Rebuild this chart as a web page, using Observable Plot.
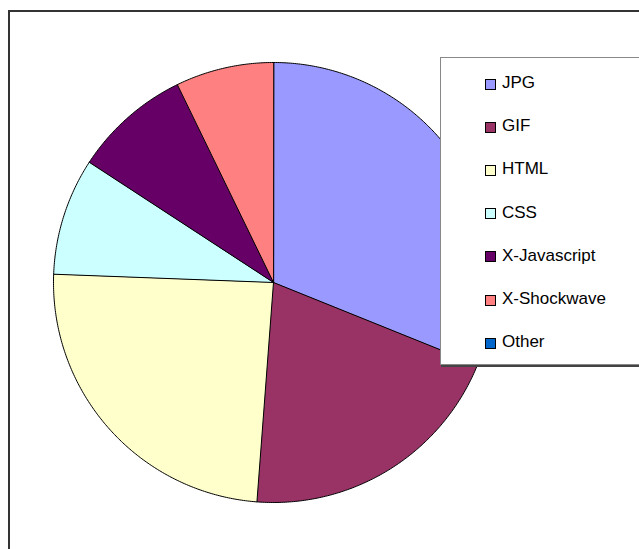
<!DOCTYPE html>
<html>
<head>
<meta charset="utf-8">
<script src="https://cdn.jsdelivr.net/npm/d3@7"></script>
<script src="https://cdn.jsdelivr.net/npm/@observablehq/plot@0.6"></script>
<style>
  html, body { margin: 0; padding: 0; background: #fff; overflow: hidden; }
  #wrap { position: relative; width: 639px; height: 549px; overflow: hidden; font-family: "Liberation Sans", Arial, sans-serif; }
  #chart { position: absolute; left: 0; top: 0; }
  #frame { position: absolute; left: 8px; top: 10px; width: 700px; height: 600px; border: 2px solid #333; box-sizing: border-box; pointer-events: none; }
  #legend { position: absolute; left: 440px; top: 57px; width: 230px; height: 306px; background: #fff; border: 1px solid #888; box-shadow: 1px 2px 0 #444; }
  .item { position: absolute; left: 44px; height: 20px; display: flex; align-items: center; font-size: 17px; color: #000; white-space: nowrap; }
  .sw { width: 9px; height: 9px; border: 1px solid #000; margin-right: 6px; margin-top: 2px; }
</style>
</head>
<body>
<div id="wrap">
  <div id="chart"></div>
  <div id="frame"></div>
  <div id="legend"></div>
</div>
<script>
const categories = ["JPG", "GIF", "HTML", "CSS", "X-Javascript", "X-Shockwave", "Other"];
const values = [31.1, 20.1, 24.4, 8.6, 8.6, 7.2, 0];
const colors = ["#9999FF", "#993366", "#FFFFCC", "#CCFFFF", "#660066", "#FF8080", "#0066CC"];

const data = categories.map((name, i) => ({name, value: values[i]}));
const arcs = d3.pie().sort(null).value(d => d.value)(data);

// Build slice outlines (center -> arc -> center) in unit-circle data space
const pts = [];
arcs.forEach(a => {
  if (a.endAngle - a.startAngle <= 0) return;
  const name = a.data.name;
  pts.push({name, x: 0, y: 0});
  const n = Math.max(2, Math.ceil((a.endAngle - a.startAngle) / (Math.PI / 360)));
  for (let k = 0; k <= n; ++k) {
    const t = a.startAngle + (a.endAngle - a.startAngle) * k / n;
    pts.push({name, x: Math.sin(t), y: Math.cos(t)});
  }
});

const chart = Plot.plot({
  width: 639,
  height: 549,
  marginLeft: 53,
  marginRight: 146,
  marginTop: 62,
  marginBottom: 47,
  x: {domain: [-1, 1], axis: null},
  y: {domain: [-1, 1], axis: null},
  color: {domain: categories, range: colors},
  style: {background: "transparent"},
  marks: [
    Plot.line(pts, {x: "x", y: "y", z: "name", fill: "name", stroke: "#000", strokeWidth: 1, curve: "linear-closed"})
  ]
});
document.getElementById("chart").appendChild(chart);

const legend = document.getElementById("legend");
categories.forEach((c, i) => {
  const item = document.createElement("div");
  item.className = "item";
  item.style.top = (15 + i * 43.2) + "px";
  const sw = document.createElement("div");
  sw.className = "sw";
  sw.style.background = colors[i];
  const label = document.createElement("span");
  label.textContent = c;
  item.appendChild(sw);
  item.appendChild(label);
  legend.appendChild(item);
});
</script>
</body>
</html>
